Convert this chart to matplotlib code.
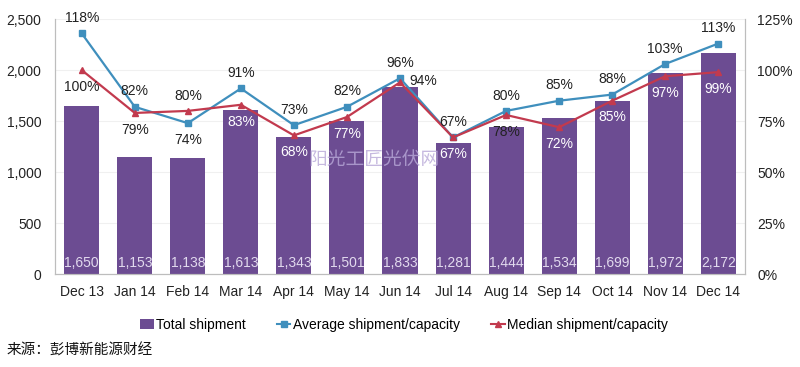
import numpy as np
import matplotlib.pyplot as plt
from matplotlib.lines import Line2D
from matplotlib.patches import Patch

months = ["Dec 13", "Jan 14", "Feb 14", "Mar 14", "Apr 14", "May 14", "Jun 14",
          "Jul 14", "Aug 14", "Sep 14", "Oct 14", "Nov 14", "Dec 14"]
total_shipment = [1650, 1153, 1138, 1613, 1343, 1501, 1833, 1281, 1444, 1534, 1699, 1972, 2172]
avg_ratio = [118, 82, 74, 91, 73, 82, 96, 67, 80, 85, 88, 103, 113]
median_ratio = [100, 79, 80, 83, 68, 77, 94, 67, 78, 72, 85, 97, 99]

BAR_COLOR = "#6c4c92"
AVG_COLOR = "#3f8fbd"
MED_COLOR = "#c23a4e"

plt.rcParams["font.family"] = ["Liberation Sans", "DejaVu Sans"]

fig = plt.figure(figsize=(8, 3.67), dpi=100)
ax = fig.add_axes([0.069, 0.253, 0.862, 0.695])
ax2 = ax.twinx()

x = np.arange(len(months))
ax.bar(x, total_shipment, width=0.66, color=BAR_COLOR, zorder=2)
for xi, v in zip(x, total_shipment):
    ax.text(xi, 45, f"{v:,}", ha="center", va="bottom", color="#e2daee",
            fontsize=10, zorder=3)

ax.set_ylim(0, 2500)
ax.set_xlim(-0.5, len(months) - 0.5)
ax.set_yticks(range(0, 2501, 500))
ax.set_yticklabels([f"{v:,}" for v in range(0, 2501, 500)])
ax.set_xticks(x)
ax.set_xticklabels(months)
ax.yaxis.grid(True, color="#f0f0f0", linewidth=0.8)
ax.set_axisbelow(True)

ax2.plot(x, avg_ratio, color=AVG_COLOR, marker="s", markersize=5, linewidth=1.6, zorder=4)
ax2.plot(x, median_ratio, color=MED_COLOR, marker="^", markersize=5, linewidth=1.6, zorder=4)
ax2.set_ylim(0, 125)
ax2.set_yticks(range(0, 126, 25))
ax2.set_yticklabels([f"{v}%" for v in range(0, 126, 25)])

# bar height in percent-axis units, to pick label colour
bar_pct = [v / 2500 * 125 for v in total_shipment]

for xi, a, m, b in zip(x, avg_ratio, median_ratio, bar_pct):
    top, bot = max(a, m), min(a, m)
    ax2.annotate(f"{top}%", (xi, top), xytext=(0, 6), textcoords="offset points",
                 ha="center", va="bottom", fontsize=10,
                 color="white" if top + 4 < b else "#222222", zorder=5)
    if xi == 6:
        ax2.annotate(f"{bot}%", (xi, bot), xytext=(17, 1), textcoords="offset points",
                     ha="center", va="center", fontsize=10, color="#222222", zorder=5)
    else:
        ax2.annotate(f"{bot}%", (xi, bot), xytext=(0, -7), textcoords="offset points",
                     ha="center", va="top", fontsize=10,
                     color="white" if bot - 4 < b else "#222222", zorder=5)

for a_ in (ax, ax2):
    a_.tick_params(length=0, labelsize=10, colors="#222222")
    a_.spines["top"].set_visible(False)
    for s in ("left", "right", "bottom"):
        a_.spines[s].set_color("#bdbdbd")
ax.tick_params(axis="x", pad=8)
ax.tick_params(axis="y", pad=10)
ax2.tick_params(axis="y", pad=9)

handles = [
    Patch(facecolor=BAR_COLOR, label="Total shipment"),
    Line2D([], [], color=AVG_COLOR, marker="s", markersize=4, linewidth=1.5,
           label="Average shipment/capacity"),
    Line2D([], [], color=MED_COLOR, marker="^", markersize=4, linewidth=1.5,
           label="Median shipment/capacity"),
]
fig.legend(handles=handles, loc="center", bbox_to_anchor=(0.505, 0.115), ncol=3,
           frameon=False, fontsize=10, handlelength=1.0, handletextpad=0.2,
           columnspacing=2.2)

fig.text(0.468, 0.565, "阳光工匠光伏网", ha="center", va="center", fontsize=13.5,
         color="#b8a8d8", alpha=0.8, family=["Noto Sans CJK SC", "DejaVu Sans"])
fig.text(0.008, 0.045, "来源：彭博新能源财经", ha="left", va="center", fontsize=10.5,
         color="#111111", family=["Noto Sans CJK SC", "DejaVu Sans"])

fig.savefig("out.png", dpi=100)
